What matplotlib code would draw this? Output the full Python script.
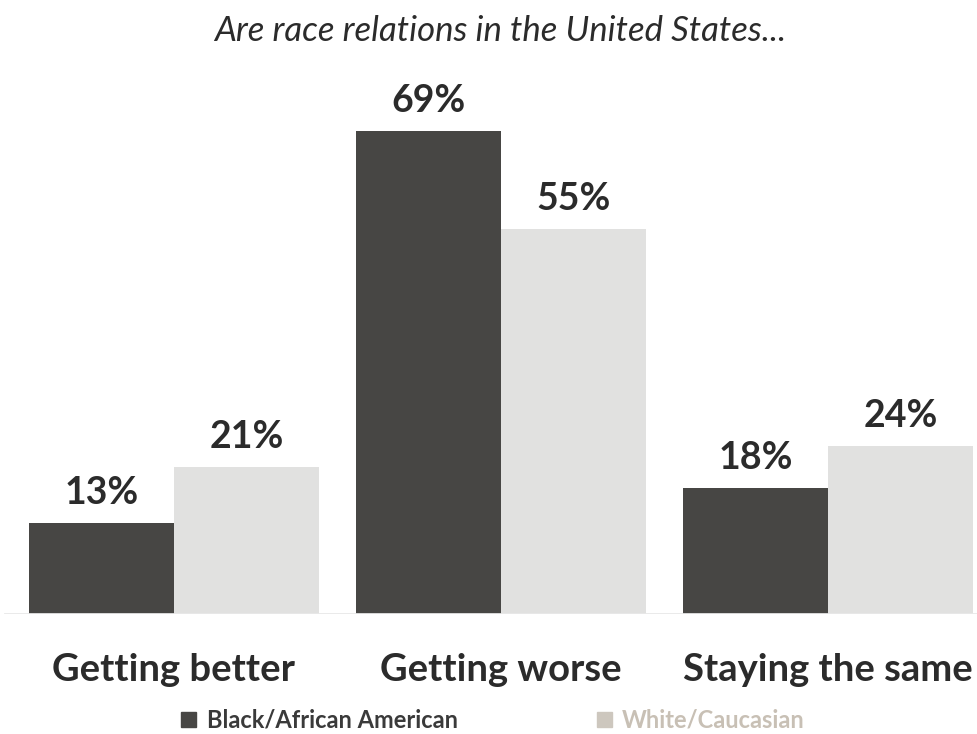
import matplotlib.pyplot as plt
import numpy as np

categories = ["Getting better", "Getting worse", "Staying the same"]
black = [13, 69, 18]
white = [21, 55, 24]
legend_labels = ["Black/African American", "White/Caucasian"]
title = "Are race relations in the United States..."

dark = "#474644"
light = "#e1e1e0"

fig = plt.figure(figsize=(9.77, 7.34), dpi=100)
ax = fig.add_axes([0, 120 / 734, 1, 554 / 734])

x = np.arange(len(categories))
w = 145 / 327
ax.bar(x - w / 2, black, w, color=dark)
ax.bar(x + w / 2, white, w, color=light)

for xi, v in zip(x, black):
    ax.text(xi - w / 2, v + 1.8, f"{v}%", ha="center", va="bottom",
            fontsize=27, fontweight="bold", family="Lato", color="#2b2b2b")
for xi, v in zip(x, white):
    ax.text(xi + w / 2, v + 1.8, f"{v}%", ha="center", va="bottom",
            fontsize=27, fontweight="bold", family="Lato", color="#2b2b2b")

ax.set_xlim(-174 / 327, 803 / 327)
ax.set_ylim(0, 554 / 7)
ax.axhline(0, xmin=0.005, color="#e8e8e8", lw=2)
for s in ax.spines.values():
    s.set_visible(False)
ax.set_yticks([])
ax.set_xticks(x)
ax.set_xticklabels(categories, fontsize=27.5, fontweight="bold", family="Lato", color="#2b2b2b")
ax.tick_params(axis="x", length=0, pad=28)

fig.text(0.512, 0.958, title, ha="center", va="center", fontsize=25,
         style="italic", family="Lato", color="#2b2b2b")

# legend drawn as text + squares
fig.patches.append(plt.Rectangle((181 / 977, 7 / 734), 15 / 977, 15 / 734,
                                 transform=fig.transFigure, color=dark))
fig.text(207 / 977, 14 / 734, legend_labels[0], ha="left", va="center",
         fontsize=17, fontweight="bold", family="Lato", color="#3a3a3a")
fig.patches.append(plt.Rectangle((597 / 977, 7 / 734), 15 / 977, 15 / 734,
                                 transform=fig.transFigure, color="#cdc7be"))
fig.text(622 / 977, 14 / 734, legend_labels[1], ha="left", va="center",
         fontsize=17, fontweight="bold", family="Lato", color="#c8c0b5")

fig.savefig("out.png", dpi=100)
